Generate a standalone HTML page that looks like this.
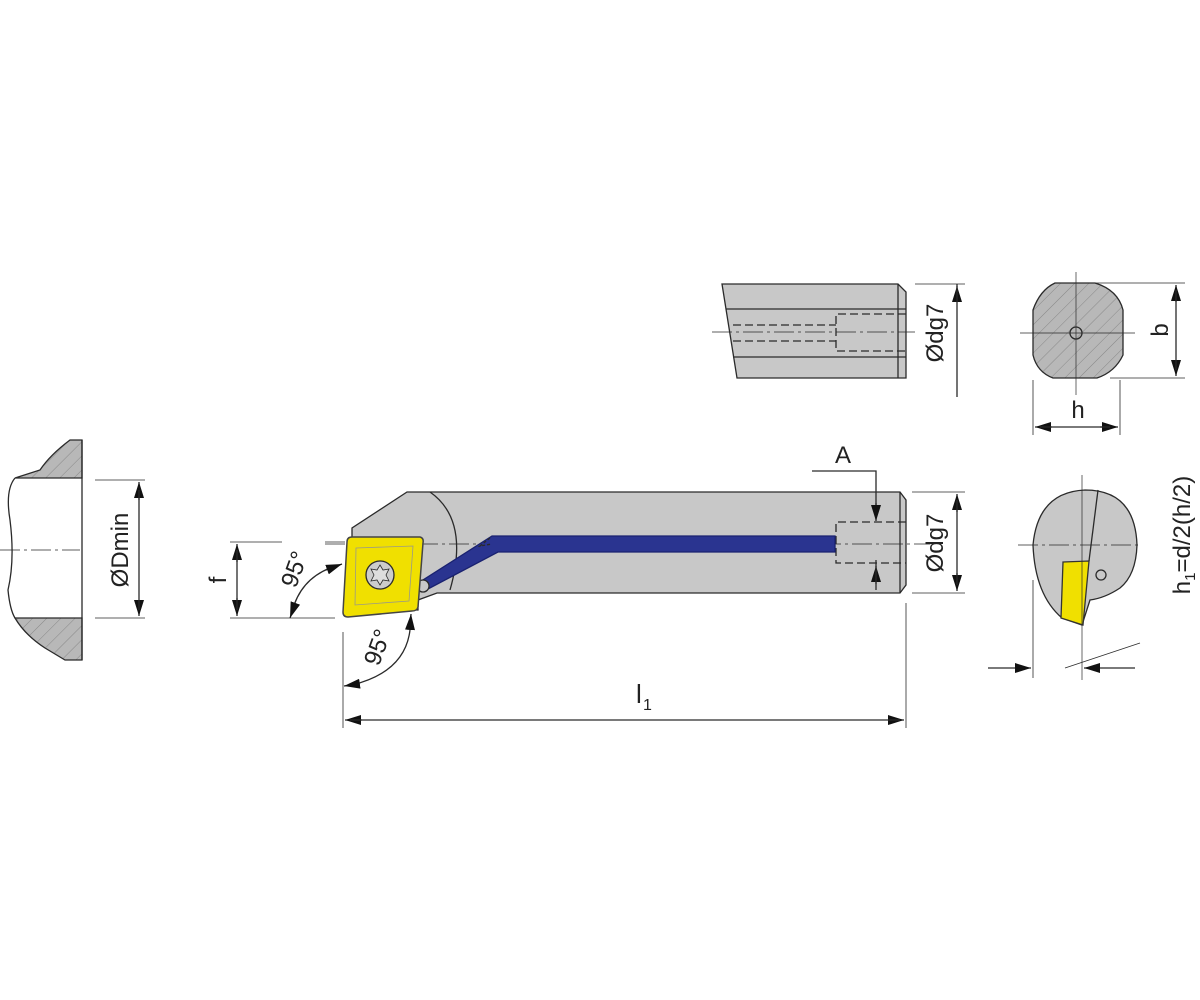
<!DOCTYPE html>
<html><head><meta charset="utf-8"><style>
html,body{margin:0;padding:0;background:#fff}
svg{display:block}
text{font-family:"Liberation Sans",sans-serif;fill:#222}
</style></head><body>
<svg width="1200" height="1000" viewBox="0 0 1200 1000" xmlns="http://www.w3.org/2000/svg">
<defs>
<pattern id="h" width="10" height="10" patternUnits="userSpaceOnUse" patternTransform="rotate(45)">
<rect width="10" height="10" fill="#b8b8b8"/><line x1="0" y1="0" x2="0" y2="10" stroke="#888" stroke-width="1"/>
</pattern>
<marker id="a" markerWidth="16" markerHeight="10" refX="16" refY="5" orient="auto" markerUnits="userSpaceOnUse"><path d="M0,0 L16,5 L0,10z" fill="#111"/></marker>
</defs>
<g stroke="#2a2a2a" stroke-width="1.3" fill="none">
<!-- left workpiece -->
<path d="M82,440 L70,440 Q50,455 40,470 L15,478 L82,478Z" fill="url(#h)"/>
<path d="M82,618 L15,618 Q25,635 45,648 L65,660 L82,660Z" fill="url(#h)"/>
<path d="M15,478 Q5,490 10,520 Q15,560 8,590 Q10,610 15,618" />
<line x1="82" y1="440" x2="82" y2="660"/>
<line x1="0" y1="550" x2="80" y2="550" stroke-dasharray="20,4,3,4" stroke-width="0.7"/>
<line x1="95" y1="480" x2="145" y2="480" stroke-width="0.8"/>
<line x1="95" y1="618" x2="145" y2="618" stroke-width="0.8"/>
<line x1="139" y1="500" x2="139" y2="482" marker-end="url(#a)"/>
<line x1="139" y1="600" x2="139" y2="616" marker-end="url(#a)"/>
<line x1="139" y1="490" x2="139" y2="610"/>

<!-- top middle view -->
<path d="M722,284 L898,284 L906,292 L906,378 L737,378 Z" fill="#c8c8c8"/>
<line x1="726" y1="309" x2="906" y2="309"/>
<line x1="733" y1="357" x2="906" y2="357"/>
<line x1="898" y1="284" x2="898" y2="378"/>
<path d="M906,314 L836,314 L836,351 L906,351" stroke-dasharray="8,4"/>
<line x1="733" y1="325" x2="836" y2="325" stroke-dasharray="8,4"/>
<line x1="733" y1="341" x2="836" y2="341" stroke-dasharray="8,4"/>
<line x1="712" y1="332" x2="915" y2="332" stroke-dasharray="20,4,3,4" stroke-width="0.7"/>
<line x1="915" y1="284" x2="965" y2="284" stroke-width="0.8"/>
<line x1="957" y1="302" x2="957" y2="286" marker-end="url(#a)"/>
<line x1="957" y1="284" x2="957" y2="397"/>

<!-- top right section -->
<path d="M1055,283 L1095,283 Q1118,290 1123,310 L1123,355 Q1115,372 1097,378 L1053,378 Q1037,372 1033,355 L1033,310 Q1040,290 1055,283Z" fill="url(#h)"/>
<circle cx="1076" cy="333" r="6" fill="none"/>
<line x1="1076" y1="272" x2="1076" y2="395" stroke-width="0.7"/>
<line x1="1020" y1="333" x2="1135" y2="333" stroke-width="0.7"/>
<line x1="1095" y1="283" x2="1185" y2="283" stroke-width="0.8"/>
<line x1="1110" y1="378" x2="1185" y2="378" stroke-width="0.8"/>
<line x1="1176" y1="302" x2="1176" y2="285" marker-end="url(#a)"/>
<line x1="1176" y1="360" x2="1176" y2="376" marker-end="url(#a)"/>
<line x1="1176" y1="290" x2="1176" y2="370"/>
<line x1="1033" y1="380" x2="1033" y2="435" stroke-width="0.8"/>
<line x1="1120" y1="380" x2="1120" y2="435" stroke-width="0.8"/>
<line x1="1052" y1="427" x2="1035" y2="427" marker-end="url(#a)"/>
<line x1="1100" y1="427" x2="1118" y2="427" marker-end="url(#a)"/>
<line x1="1040" y1="427" x2="1110" y2="427"/>

<!-- main tool body -->
<path d="M407,492 L900,492 L906,500 L906,585 L900,593 L437,593 L418,600 L418,610 L352,610 L352,528 Z" fill="#c8c8c8"/>
<path d="M430,492 Q470,520 450,590" />
<line x1="900" y1="492" x2="900" y2="593"/>
<path d="M906,522 L836,522 L836,563 L906,563" stroke-dasharray="8,4"/>
<line x1="325" y1="544" x2="930" y2="544" stroke-dasharray="20,4,3,4" stroke-width="0.7"/>
<!-- coolant -->
<path d="M492,536 L835,536 L835,552 L498,552 L428,589 L423,580 Z" fill="#2a3490" stroke="#1a2270"/>
<circle cx="423" cy="586" r="6" fill="#c8c8c8"/>
<path d="M490,538 L480,546 L492,544" stroke-dasharray="3,2"/>
<!-- insert -->
<path d="M347,542 Q347,537 352,537 L420,537 Q424,538 423,543 L418,607 Q417,611 412,611 L348,617 Q343,617 343,612 Z" fill="#f0e000" stroke="#444" stroke-width="1.5"/>
<path d="M356,548 L413,546 L409,601 L355,605 Z" stroke="#998" stroke-width="0.8"/>
<circle cx="380" cy="575" r="14" fill="#ccc"/>
<path d="M380,565 L383,570 L389,569 L386,575 L389,581 L383,580 L380,585 L377,580 L371,581 L374,575 L371,569 L377,570 Z" fill="#ddd" stroke-width="0.8"/>
<!-- A dim -->
<polyline points="812,471 876,471 876,515"/>
<line x1="876" y1="503" x2="876" y2="521" marker-end="url(#a)"/>
<line x1="876" y1="584" x2="876" y2="566" marker-end="url(#a)"/>
<line x1="876" y1="560" x2="876" y2="590"/>
<!-- Ødg7 lower -->
<line x1="912" y1="492" x2="965" y2="492" stroke-width="0.8"/>
<line x1="912" y1="593" x2="965" y2="593" stroke-width="0.8"/>
<line x1="957" y1="512" x2="957" y2="494" marker-end="url(#a)"/>
<line x1="957" y1="573" x2="957" y2="591" marker-end="url(#a)"/>
<line x1="957" y1="500" x2="957" y2="585"/>
<!-- f dim -->
<line x1="230" y1="542" x2="282" y2="542" stroke-width="0.8"/>
<line x1="325" y1="542" x2="345" y2="542" stroke-width="0.8"/>
<line x1="230" y1="618" x2="335" y2="618" stroke-width="0.8"/>
<line x1="237" y1="562" x2="237" y2="544" marker-end="url(#a)"/>
<line x1="237" y1="598" x2="237" y2="616" marker-end="url(#a)"/>
<line x1="237" y1="550" x2="237" y2="610"/>
<!-- 95 arcs -->
<path d="M330,568 Q300,580 292,612"/>
<line x1="326" y1="570" x2="342" y2="564" marker-end="url(#a)"/>
<line x1="295" y1="604" x2="290" y2="618" marker-end="url(#a)"/>
<path d="M410,630 Q405,672 352,685"/>
<line x1="410" y1="630" x2="411" y2="614" marker-end="url(#a)"/>
<line x1="358" y1="684" x2="344" y2="686" marker-end="url(#a)"/>
<line x1="343" y1="632" x2="343" y2="728" stroke-width="0.8"/>
<line x1="906" y1="603" x2="906" y2="728" stroke-width="0.8"/>
<!-- l1 -->
<line x1="362" y1="720" x2="345" y2="720" marker-end="url(#a)"/>
<line x1="888" y1="720" x2="904" y2="720" marker-end="url(#a)"/>
<line x1="350" y1="720" x2="900" y2="720"/>

<!-- bottom right section -->
<path d="M1085,490 Q1135,490 1137,545 Q1136,575 1120,588 Q1105,598 1090,600 L1082,625 L1062,618 Q1035,595 1033,545 Q1038,492 1085,490 Z" fill="#c8c8c8"/>
<path d="M1063,562 L1089,561 L1083,625 L1061,618 Z" fill="#f0e000" stroke="#333"/>
<line x1="1098" y1="490" x2="1089" y2="561"/>
<circle cx="1101" cy="575" r="5" fill="none"/>
<line x1="1082" y1="475" x2="1082" y2="680" stroke-width="0.7"/>
<line x1="1018" y1="545" x2="1140" y2="545" stroke-dasharray="20,4,3,4" stroke-width="0.7"/>
<line x1="1033" y1="580" x2="1033" y2="678" stroke-width="0.8"/>
<line x1="988" y1="668" x2="1031" y2="668" marker-end="url(#a)"/>
<line x1="1135" y1="668" x2="1084" y2="668" marker-end="url(#a)"/>
<line x1="1065" y1="668" x2="1140" y2="643" stroke-width="0.8"/>
</g>
<text x="0" y="0" font-size="24" transform="translate(128,550) rotate(-90)" text-anchor="middle">ØDmin</text>
<text x="0" y="0" font-size="24" transform="translate(943,333) rotate(-90)" text-anchor="middle">Ødg7</text>
<text x="0" y="0" font-size="24" transform="translate(943,543) rotate(-90)" text-anchor="middle">Ødg7</text>
<text x="0" y="0" font-size="24" transform="translate(1168,330) rotate(-90)" text-anchor="middle">b</text>
<text x="1078" y="418" font-size="24" text-anchor="middle">h</text>
<text x="843" y="463" font-size="24" text-anchor="middle">A</text>
<text x="0" y="0" font-size="24" transform="translate(226,580) rotate(-90)" text-anchor="middle">f</text>
<text x="0" y="0" font-size="24" transform="translate(302,572) rotate(-70)" text-anchor="middle">95°</text>
<text x="0" y="0" font-size="24" transform="translate(385,650) rotate(-70)" text-anchor="middle">95°</text>
<text x="636" y="703" font-size="26">l</text>
<text x="643" y="710" font-size="16">1</text>
<text x="0" y="0" font-size="24" transform="translate(1190,535) rotate(-90)" text-anchor="middle">h<tspan font-size="15" dy="5">1</tspan><tspan dy="-5">=d/2(h/2)</tspan></text>
</svg>
</body></html>
